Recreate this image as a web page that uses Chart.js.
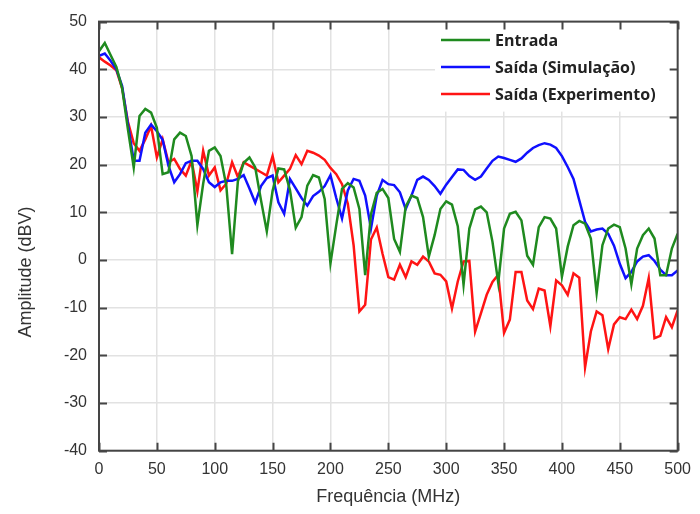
<!DOCTYPE html>
<html>
<head>
<meta charset="utf-8">
<script src="https://cdn.jsdelivr.net/npm/chart.js@4.4.1/dist/chart.umd.min.js"></script>
<style>
  html, body { margin: 0; padding: 0; background: #fff; }
  #wrap { width: 700px; height: 514px; }
</style>
</head>
<body>
<div id="wrap"><canvas id="chart" width="700" height="514"></canvas></div>
<script>
// Frequency samples (MHz)
const freqMHz = [
  0, 5, 10, 15, 20, 25, 30, 35, 40, 45,
  50, 55, 60, 65, 70, 75, 80, 85, 90, 95,
  100, 105, 110, 115, 120, 125, 130, 135, 140, 145,
  150, 155, 160, 165, 170, 175, 180, 185, 190, 195,
  200, 205, 210, 215, 220, 225, 230, 235, 240, 245,
  250, 255, 260, 265, 270, 275, 280, 285, 290, 295,
  300, 305, 310, 315, 320, 325, 330, 335, 340, 345,
  350, 355, 360, 365, 370, 375, 380, 385, 390, 395,
  400, 405, 410, 415, 420, 425, 430, 435, 440, 445,
  450, 455, 460, 465, 470, 475, 480, 485, 490, 495,
  500
];

// Amplitude (dBV) of each spectrum
const entrada = [
  43.8, 45.5, 43, 40.5, 36, 27.4, 19.4, 30.2, 31.7, 30.9,
  27.7, 18, 18.4, 25.3, 26.7, 26, 21.8, 7.3, 16, 22.9,
  23.6, 21.8, 15.6, 1.2, 16.5, 20.4, 21.5, 19.4, 12.5, 6.0,
  14.5, 19.2, 19, 14.7, 6.8, 9, 15.6, 17.8, 17.3, 12.8,
  -0.7, 7.3, 14.9, 16.1, 15.2, 10.7, -3.2, 9.6, 14.1, 14.9,
  13, 4.4, 1.7, 11.2, 13.5, 13, 9, 0.7, 5.2, 10.7,
  12.3, 11.6, 7.1, -5.2, 6.6, 10.6, 11.2, 10, 3.8, -4.8,
  6.6, 9.7, 10.1, 8.3, 0.9, -1, 6.9, 9, 8.7, 6.6,
  -3.5, 2.8, 7.3, 8.2, 7.6, 4.5, -6.9, 3.1, 6.6, 7.4,
  6.9, 2.4, -5.1, 2.4, 5.2, 6.6, 4.5, -3.2, -3.2, 2.4,
  5.5
];

const saidaSimulacao = [
  42.8, 43.3, 41.8, 40, 36.5, 28.5, 20.8, 20.8, 26.7, 28.4,
  27.0, 25.2, 19.8, 16.3, 18, 20.3, 20.8, 20.8, 19.1, 16.3,
  15.3, 16.3, 16.6, 16.6, 17, 17.8, 15, 12, 15.5, 17.2,
  17.7, 12.1, 9.7, 17, 15, 13, 11.4, 13.4, 14.3, 15.5,
  17.8, 13, 8.7, 14.6, 17, 16.6, 13.5, 6.6, 13.5, 16.8,
  15.9, 15.7, 14.2, 10.7, 13.5, 16.8, 17.5, 16.8, 15.5, 13.9,
  15.8, 17.4, 19, 18.9, 17.6, 16.8, 17.5, 19.2, 20.8, 21.7,
  21.4, 21, 20.6, 21.3, 22.5, 23.5, 24.1, 24.5, 24.2, 23.5,
  21.8, 19.5, 17, 12.5, 8, 6, 6.4, 6.6, 5.5, 3,
  -0.8, -3.8, -2.5, -0.3, 0.7, 1.0, -0.2, -2, -3.2, -3.2,
  -2.2
];

const saidaExperimento = [
  42.5, 41.6, 40.8, 39.8, 36, 29, 24.5, 22.9, 25.3, 28.1,
  21.5, 25.3, 20.5, 21.2, 19.1, 17.7, 20.8, 14.4, 22.9, 17.7,
  19.4, 14.6, 16, 20.5, 17.4, 20.5, 19.8, 19.1, 18.4, 17.7,
  21.8, 16.3, 17.7, 19.1, 22, 20.1, 22.9, 22.5, 21.9, 21,
  19.3, 18, 15.9, 11.8, 3.1, -10.8, -9.4, 4.3, 6.8, 1.3,
  -3.6, -4.1, -1, -3.6, -0.3, -1, 0.7, -0.3, -2.8, -3.1,
  -4.5, -10.2, -4.5, -0.3, -0.2, -15, -11.2, -7.3, -4.6, -3.1,
  -15.3, -12.5, -2.5, -2.5, -8.5, -10.3, -6, -6.4, -13.9, -4.3,
  -5.3, -7.3, -2.8, -3.7, -22.5, -15, -10.8, -11.6, -18.7, -13.5,
  -12, -12.4, -10.4, -12.4, -9.6, -3.8, -16.4, -15.9, -12, -14.1,
  -10.6
];

// Axis tick values
const freqTicks = [0, 50, 100, 150, 200, 250, 300, 350, 400, 450, 500];
const ampTicks = [-40, -30, -20, -10, 0, 10, 20, 30, 40, 50];

const seriesNames = ['Entrada', 'Saída (Simulação)', 'Saída (Experimento)'];
const seriesColors = ['#1f8a1f', '#1010ff', '#ff1414'];

const toPoints = (ys) => freqMHz.map((f, i) => ({ x: f, y: ys[i] }));

const FRAME_COLOR = '#454545';
const TICK_LEN = 8;

// Boxed frame with inward ticks on all four sides, axis titles and legend
const framePlugin = {
  id: 'frame',
  afterDatasetsDraw(chart) {
    const { ctx, chartArea: a, scales } = chart;
    ctx.save();

    // legend panel
    ctx.fillStyle = '#ffffff';
    ctx.fillRect(435, a.top + 1, a.right - 436, 89);
    ctx.font = 'bold 16px "Open Sans", sans-serif';
    ctx.textBaseline = 'middle';
    ctx.textAlign = 'left';
    const rowY = [40, 67, 94];
    chart.data.datasets.forEach((ds, i) => {
      ctx.strokeStyle = ds.borderColor;
      ctx.lineWidth = 2.5;
      ctx.beginPath();
      ctx.moveTo(441, rowY[i]);
      ctx.lineTo(490, rowY[i]);
      ctx.stroke();
      ctx.fillStyle = '#222';
      ctx.fillText(ds.label, 495, rowY[i] + 1);
    });

    // frame
    ctx.strokeStyle = FRAME_COLOR;
    ctx.lineWidth = 2;
    ctx.strokeRect(a.left, a.top, a.right - a.left, a.bottom - a.top);

    // inward ticks
    ctx.beginPath();
    freqTicks.forEach(v => {
      const x = Math.round(scales.x.getPixelForValue(v)) + 0.5;
      ctx.moveTo(x, a.bottom); ctx.lineTo(x, a.bottom - TICK_LEN);
      ctx.moveTo(x, a.top); ctx.lineTo(x, a.top + TICK_LEN);
    });
    ampTicks.forEach(v => {
      const y = Math.round(scales.y.getPixelForValue(v)) + 0.5;
      ctx.moveTo(a.left, y); ctx.lineTo(a.left + TICK_LEN, y);
      ctx.moveTo(a.right, y); ctx.lineTo(a.right - TICK_LEN, y);
    });
    ctx.stroke();

    // axis titles
    ctx.fillStyle = '#333';
    ctx.font = '18px "Liberation Sans", Arial, sans-serif';
    ctx.textAlign = 'center';
    ctx.textBaseline = 'middle';
    ctx.fillText('Frequência (MHz)', (a.left + a.right) / 2, 497);
    ctx.translate(26, 272);
    ctx.rotate(-Math.PI / 2);
    ctx.fillText('Amplitude (dBV)', 0, 0);
    ctx.restore();
  }
};

new Chart(document.getElementById('chart'), {
  type: 'line',
  data: {
    datasets: [entrada, saidaSimulacao, saidaExperimento].map((ys, i) => ({
      label: seriesNames[i],
      data: toPoints(ys),
      borderColor: seriesColors[i],
      backgroundColor: seriesColors[i],
      borderWidth: 2.5,
      pointRadius: 0,
      tension: 0,
      fill: false
    }))
  },
  options: {
    responsive: false,
    animation: false,
    layout: { padding: { left: 0, right: 15.5, top: 18, bottom: 0 } },
    plugins: { legend: { display: false }, tooltip: { enabled: false } },
    scales: {
      x: {
        type: 'linear',
        min: 0, max: 500,
        afterBuildTicks: (s) => { s.ticks = freqTicks.map(v => ({ value: v })); },
        afterFit: (s) => { s.height = 63.3; },
        border: { display: false },
        grid: { color: '#e2e2e2', lineWidth: 1.5, drawTicks: false },
        ticks: {
          color: '#333',
          padding: 9,
          maxRotation: 0,
          font: { family: '"Liberation Sans", Arial, sans-serif', size: 16 }
        }
      },
      y: {
        type: 'linear',
        min: -40, max: 50,
        afterBuildTicks: (s) => { s.ticks = ampTicks.map(v => ({ value: v })); },
        afterFit: (s) => { s.width = 99; },
        border: { display: false },
        grid: { color: '#e2e2e2', lineWidth: 1.5, drawTicks: false },
        ticks: {
          color: '#333',
          padding: 12,
          font: { family: '"Liberation Sans", Arial, sans-serif', size: 16 }
        }
      }
    }
  },
  plugins: [framePlugin]
});
</script>
</body>
</html>
